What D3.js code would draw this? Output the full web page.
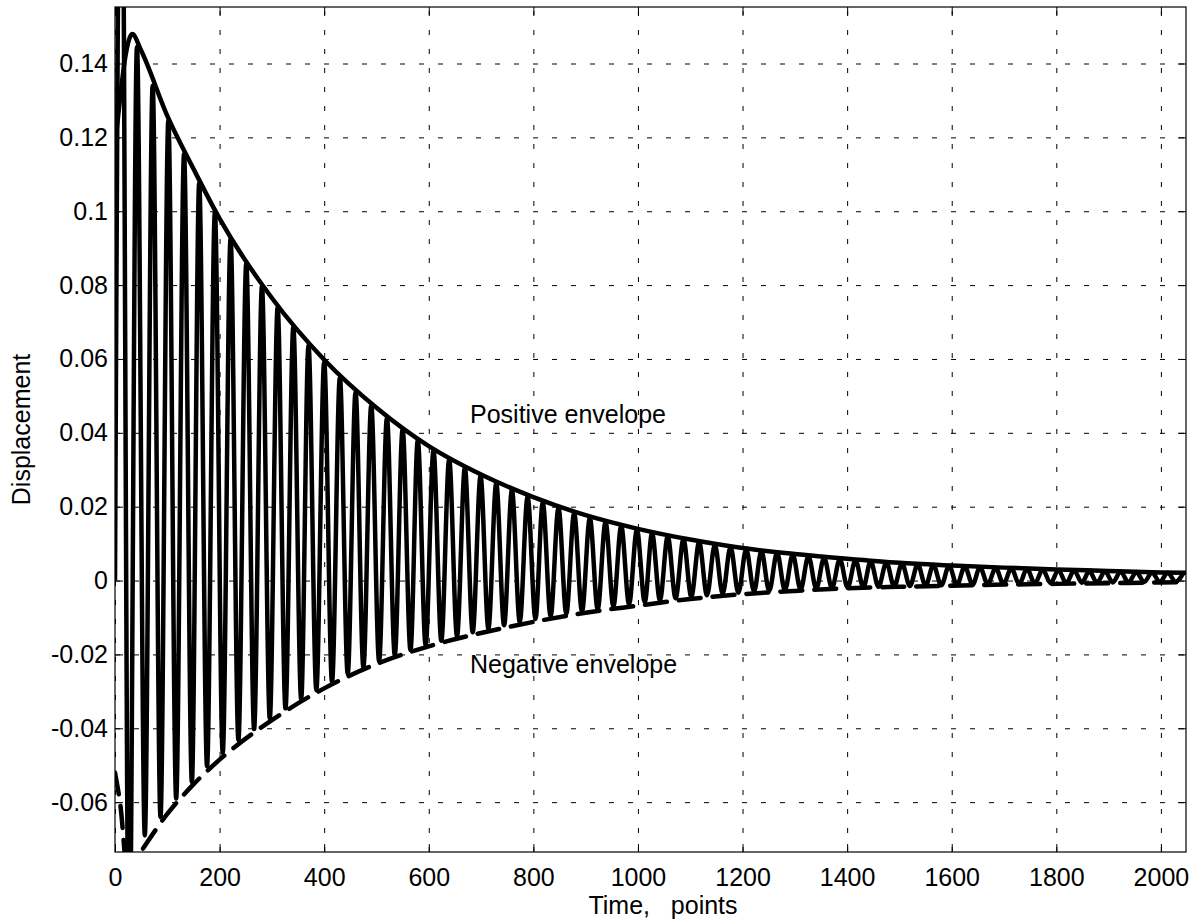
<!DOCTYPE html>
<html lang="en">
<head>
  <meta charset="UTF-8">
  <title>Displacement with envelopes</title>
  <script src="https://d3js.org/d3.v7.min.js"></script>
  <style>
    body { margin: 0; background: #fff; }
    svg text { font-family: "Liberation Sans", Arial, sans-serif; font-size: 25px; fill: #000; }
    .grid line { stroke: #000; stroke-width: 1; stroke-dasharray: 5,14; }
    .grid path { display: none; }
    .axis path { display: none; }
    .axis line { stroke: #000; stroke-width: 1; }
    .signal, .env { fill: none; stroke: #000; stroke-linejoin: round; }
  </style>
</head>
<body>
<svg id="chart"></svg>
<script>
  // ticks
  const xTicks = [0, 200, 400, 600, 800, 1000, 1200, 1400, 1600, 1800, 2000];
  const yTicks = [-0.06, -0.04, -0.02, 0, 0.02, 0.04, 0.06, 0.08, 0.1, 0.12, 0.14];
  const yTickLabels = ["-0.06", "-0.04", "-0.02", "0", "0.02", "0.04", "0.06", "0.08", "0.1", "0.12", "0.14"];

  // signal: start, peaks, troughs
  const signalStart = [0, 0];
  const peakT = [12, 42, 72, 102, 132, 161, 191, 221, 251, 281, 311, 341, 370, 400, 430, 460, 490, 520, 550, 579,
    609, 639, 669, 699, 729, 759, 789, 818, 848, 878, 908, 938, 968, 998, 1027, 1057, 1087, 1117, 1147, 1177,
    1207, 1236, 1266, 1296, 1326, 1356, 1386, 1416, 1445, 1475, 1505, 1535, 1565, 1595, 1625, 1654, 1684, 1714,
    1744, 1774, 1804, 1834, 1863, 1893, 1923, 1953, 1983, 2013, 2043];
  const peakV = [0.24, 0.1445, 0.134, 0.1245, 0.1155, 0.1076, 0.0997, 0.0925, 0.0858, 0.0796, 0.0739, 0.0686,
    0.0637, 0.0592, 0.0550, 0.0510, 0.0474, 0.0440, 0.0409, 0.0380, 0.0352, 0.0328, 0.0305, 0.0283, 0.0263,
    0.0245, 0.0228, 0.0212, 0.0197, 0.0183, 0.0170, 0.0159, 0.0148, 0.0138, 0.0128, 0.0120, 0.0112, 0.0104,
    0.0097, 0.0091, 0.0085, 0.0080, 0.0075, 0.0070, 0.0066, 0.0062, 0.0058, 0.0055, 0.0052, 0.0049, 0.0046,
    0.0044, 0.0042, 0.0040, 0.0038, 0.0036, 0.0034, 0.0033, 0.0031, 0.0030, 0.0028, 0.0027, 0.0026, 0.0025,
    0.0024, 0.0023, 0.0022, 0.0021, 0.0020];
  const troughT = [27, 57, 87, 117, 147, 176, 206, 236, 266, 296, 326, 356, 385, 415, 445, 475, 505, 535, 565, 594,
    624, 654, 684, 714, 744, 774, 804, 833, 863, 893, 923, 953, 983, 1013, 1042, 1072, 1102, 1132, 1162, 1192,
    1222, 1251, 1281, 1311, 1341, 1371, 1401, 1431, 1460, 1490, 1520, 1550, 1580, 1610, 1640, 1669, 1699, 1729,
    1759, 1789, 1819, 1849, 1878, 1908, 1938, 1968, 1998, 2028];
  const troughV = [-0.11, -0.069, -0.064, -0.059, -0.0545, -0.0503, -0.0466, -0.0432, -0.0402, -0.0373, -0.0346,
    -0.0321, -0.0297, -0.0275, -0.0253, -0.0235, -0.0218, -0.0202, -0.0188, -0.0175, -0.0163, -0.0151, -0.0140,
    -0.0130, -0.0121, -0.0112, -0.0104, -0.0097, -0.0090, -0.0084, -0.0078, -0.0070, -0.0064, -0.0058, -0.0053,
    -0.0048, -0.0044, -0.0040, -0.0036, -0.0033, -0.0030, -0.0028, -0.0026, -0.0024, -0.0022, -0.0020, -0.0019,
    -0.0018, -0.0017, -0.0016, -0.0015, -0.0014, -0.0013, -0.0012, -0.0011, -0.0010, -0.0009, -0.0009, -0.0008,
    -0.0007, -0.0007, -0.0006, -0.0006, -0.0005, -0.0005, -0.0004, -0.0004, -0.0003];

  // envelopes
  const posEnvT = [0, 10, 20, 33, 50, 100, 150, 200, 300, 400, 500, 600, 700, 800, 900, 1000, 1100, 1200, 1300,
    1400, 1500, 1600, 1700, 1800, 1900, 2000, 2048];
  const posEnvV = [0.118, 0.131, 0.142, 0.148, 0.1435, 0.1258, 0.1115, 0.0980, 0.0765, 0.0598, 0.0468, 0.0364,
    0.0287, 0.0226, 0.0177, 0.0140, 0.0111, 0.0088, 0.0072, 0.0059, 0.0048, 0.0041, 0.0035, 0.0030, 0.0026,
    0.0022, 0.0021];
  const negEnvT = [0, 10, 25, 45, 60, 100, 150, 200, 300, 400, 500, 600, 700, 800, 900, 1000, 1100, 1200, 1300,
    1400, 1500, 1600, 1700, 1800, 1900, 2000, 2048];
  const negEnvV = [-0.052, -0.0605, -0.080, -0.0745, -0.0712, -0.0632, -0.0552, -0.0485, -0.0378, -0.0292,
    -0.0226, -0.0178, -0.0142, -0.0112, -0.0087, -0.0068, -0.0050, -0.0037, -0.0028, -0.0021, -0.0017, -0.0014,
    -0.0011, -0.0009, -0.0007, -0.0005, -0.0004];

  const width = 1202, height = 924;
  const margin = { top: 7, right: 16, bottom: 72, left: 115 };
  const plotW = width - margin.left - margin.right;
  const plotH = height - margin.top - margin.bottom;

  const svg = d3.select("#chart")
    .attr("width", width)
    .attr("height", height);

  const x = d3.scaleLinear().domain([0, 2048]).range([margin.left, margin.left + plotW]);
  const y = d3.scaleLinear().domain([-0.0735, 0.1553]).range([margin.top + plotH, margin.top]);

  svg.append("clipPath").attr("id", "plot-clip")
    .append("rect")
    .attr("x", margin.left).attr("y", margin.top)
    .attr("width", plotW).attr("height", plotH);

  // grid
  svg.append("g").attr("class", "grid")
    .attr("transform", `translate(0,${margin.top + plotH})`)
    .call(d3.axisBottom(x).tickValues(xTicks).tickSize(-plotH).tickFormat(""));
  svg.append("g").attr("class", "grid")
    .attr("transform", `translate(${margin.left},0)`)
    .call(d3.axisLeft(y).tickValues(yTicks).tickSize(-plotW).tickFormat(""));

  // data
  const signal = [{ t: signalStart[0], v: signalStart[1] }]
    .concat(peakT.map((t, i) => ({ t: t, v: peakV[i] })))
    .concat(troughT.map((t, i) => ({ t: t, v: troughV[i] })))
    .sort((a, b) => a.t - b.t);
  const posEnv = posEnvT.map((t, i) => ({ t: t, v: posEnvV[i] }));
  const negEnv = negEnvT.map((t, i) => ({ t: t, v: negEnvV[i] }));

  const line = d3.line()
    .x(d => x(d.t))
    .y(d => y(d.v))
    .curve(d3.curveMonotoneX);

  const plot = svg.append("g").attr("clip-path", "url(#plot-clip)");

  plot.append("path")
    .datum(signal)
    .attr("class", "signal")
    .attr("stroke-width", 4.5)
    .attr("d", line);

  plot.append("path")
    .datum(posEnv)
    .attr("class", "env")
    .attr("stroke-width", 4.5)
    .attr("d", line);

  plot.append("path")
    .datum(negEnv)
    .attr("class", "env")
    .attr("stroke-width", 4.5)
    .attr("stroke-linecap", "round")
    .attr("stroke-dasharray", "22,12")
    .attr("d", line);

  // axes with inward ticks
  svg.append("g").attr("class", "axis")
    .attr("transform", `translate(0,${margin.top + plotH})`)
    .call(d3.axisBottom(x).tickValues(xTicks).tickSize(-8).tickPadding(16).tickFormat(d3.format("d")));
  svg.append("g").attr("class", "axis")
    .attr("transform", `translate(0,${margin.top})`)
    .call(d3.axisTop(x).tickValues(xTicks).tickSize(-8).tickFormat(""));
  svg.append("g").attr("class", "axis")
    .attr("transform", `translate(${margin.left},0)`)
    .call(d3.axisLeft(y).tickValues(yTicks).tickSize(-8).tickPadding(7)
      .tickFormat((d, i) => yTickLabels[i]));
  svg.append("g").attr("class", "axis")
    .attr("transform", `translate(${margin.left + plotW},0)`)
    .call(d3.axisRight(y).tickValues(yTicks).tickSize(-8).tickFormat(""));

  svg.selectAll(".axis text").style("font-size", "25px").style("font-family", "'Liberation Sans', Arial, sans-serif");

  svg.append("rect")
    .attr("x", margin.left).attr("y", margin.top)
    .attr("width", plotW).attr("height", plotH)
    .attr("fill", "none").attr("stroke", "#000").attr("stroke-width", 1.2);

  // labels
  svg.append("text")
    .attr("x", 663)
    .attr("y", 914)
    .attr("text-anchor", "middle")
    .style("white-space", "pre")
    .text("Time,   points");

  svg.append("text")
    .attr("transform", `translate(30,${margin.top + plotH / 2}) rotate(-90)`)
    .attr("text-anchor", "middle")
    .text("Displacement");

  svg.append("text")
    .attr("x", 470).attr("y", 423)
    .text("Positive envelope");

  svg.append("text")
    .attr("x", 470).attr("y", 673)
    .text("Negative envelope");
</script>
</body>
</html>
